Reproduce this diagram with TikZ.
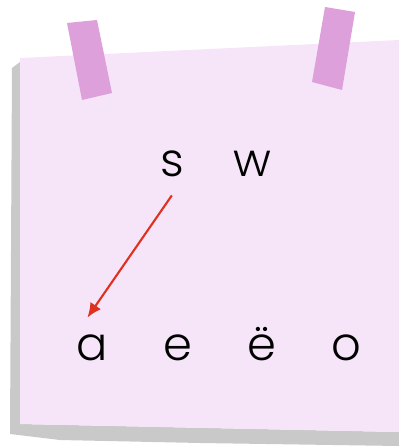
\documentclass[tikz,border=0pt]{standalone}
\usepackage{fontspec}
\newfontfamily\lett{Poppins Light}
\usetikzlibrary{arrows.meta}

\definecolor{paper}{HTML}{F6E5F8}
\definecolor{shadowgrey}{HTML}{C9C9C9}
\definecolor{tape}{HTML}{DDA0DB}
\definecolor{arrred}{HTML}{E0301E}

\begin{document}
\begin{tikzpicture}[x=0.025cm, y=-0.025cm,
    letter/.style={font=\lett\fontsize{33}{40}\selectfont, inner sep=0pt, anchor=base},
    arr/.style={draw=arrred, line width=1.5pt, -{Latex[length=3.6mm, width=3.2mm]}}]

  \useasboundingbox (0,0) rectangle (399,446);

  % --- Paper ---
  \fill[shadowgrey] (12,68) -- (20,62) -- (20,424) -- (399,432) -- (399,446)
    -- (200,443) -- (60,440) -- (10,434) -- cycle;
  \fill[paper] (20,58) -- (399,40) -- (399,432) -- (20,424) -- cycle;

  % --- Tapes ---
  \fill[tape] (67,23) -- (97,20) -- (112,93) -- (82,100) -- cycle;
  \fill[tape] (325,7) -- (355,12) -- (342,90) -- (312,82) -- cycle;

  % --- Top letters ---
  \node[letter] (s) at (172,177) {s};
  \node[letter] (w) at (252,177) {w};

  % --- Vowels ---
  \foreach \n/\x/\t in {a/92/a, e/178/e, yo/262/ë, o/346/o} {
    \node[letter] (\n) at (\x,360) {\t};
  }

  % --- Arrow ---
  \draw[arr, shorten <=0.54cm, shorten >=0.5cm] (s.south east) -- (a.north west);

\end{tikzpicture}
\end{document}
